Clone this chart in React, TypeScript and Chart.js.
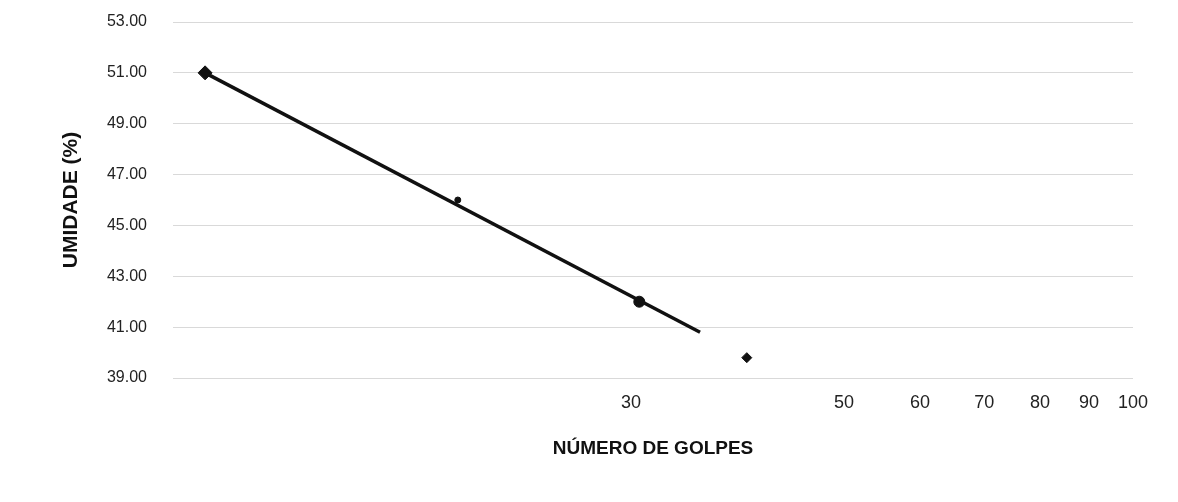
import React, { useEffect, useRef } from "react";
import { Chart, registerables } from "chart.js";

Chart.register(...registerables);

// Ensaio de limite de liquidez: número de golpes x umidade
const golpes = [10.8, 19.8, 30.6, 39.6];
const umidade = [51.0, 46.0, 42.0, 39.8];

// Reta ajustada aos pontos
const retaGolpes = [10.8, 35.4];
const retaUmidade = [51.0, 40.8];

// Marcas dos eixos
const yTicks = [39, 41, 43, 45, 47, 49, 51, 53];
const xTickLabels = [30, 50, 60, 70, 80, 90, 100];

const FONT = "'Liberation Sans', Arial, Helvetica, sans-serif";

export default function App() {
  const canvasRef = useRef<HTMLCanvasElement | null>(null);

  useEffect(() => {
    const canvas = canvasRef.current;
    if (!canvas) return;

    const chart = new Chart(canvas, {
      type: "scatter",
      data: {
        datasets: [
          {
            label: "Reta",
            data: retaGolpes.map((g, i) => ({ x: g, y: retaUmidade[i] })),
            showLine: true,
            borderColor: "#111",
            backgroundColor: "#111",
            borderWidth: 3.5,
            pointRadius: 0,
            pointHoverRadius: 0,
          },
          {
            label: "Ensaios",
            data: golpes.map((g, i) => ({ x: g, y: umidade[i] })),
            showLine: false,
            borderColor: "#111",
            backgroundColor: "#111",
            pointStyle: ["rectRot", "circle", "circle", "rectRot"],
            pointRadius: [7, 3, 5.5, 5],
            pointBorderWidth: 1,
          },
        ],
      },
      options: {
        animation: false,
        responsive: true,
        maintainAspectRatio: false,
        layout: { padding: { top: 14, right: 37, bottom: 34, left: 0 } },
        plugins: {
          legend: { display: false },
          tooltip: { enabled: false },
        },
        scales: {
          x: {
            type: "logarithmic",
            min: 10,
            max: 100,
            afterBuildTicks: (scale: any) => {
              scale.ticks = xTickLabels.map((v) => ({ value: v }));
            },
            afterFit: (scale: any) => {
              scale.height = 82;
              scale.paddingLeft = 0;
              scale.paddingRight = 0;
            },
            grid: { display: false, drawTicks: false },
            border: { display: false },
            ticks: {
              autoSkip: false,
              maxRotation: 0,
              padding: 14,
              color: "#222",
              font: { family: FONT, size: 18 },
              callback: (v: any) => String(v),
            },
            title: {
              display: true,
              text: "NÚMERO DE GOLPES",
              color: "#111",
              font: { family: FONT, size: 19, weight: "bold" },
              padding: { top: 25, bottom: 0 },
            },
          },
          y: {
            type: "linear",
            min: 39,
            max: 53,
            afterBuildTicks: (scale: any) => {
              scale.ticks = yTicks.map((v) => ({ value: v }));
            },
            afterFit: (scale: any) => {
              scale.width = 165;
              scale.paddingTop = 0;
              scale.paddingBottom = 0;
            },
            grid: { color: "#d9d9d9", lineWidth: 1, drawTicks: false },
            border: { display: false },
            ticks: {
              padding: 26,
              color: "#222",
              font: { family: FONT, size: 16 },
              callback: (v: any) => Number(v).toFixed(2),
            },
            title: {
              display: true,
              text: "UMIDADE (%)",
              color: "#111",
              font: { family: FONT, size: 21, weight: "bold" },
              padding: { top: 51, bottom: 0 },
            },
          },
        },
      },
    });

    return () => chart.destroy();
  }, []);

  return (
    <div style={{ position: "relative", width: 1162, height: 486 }}>
      <canvas ref={canvasRef} />
    </div>
  );
}
